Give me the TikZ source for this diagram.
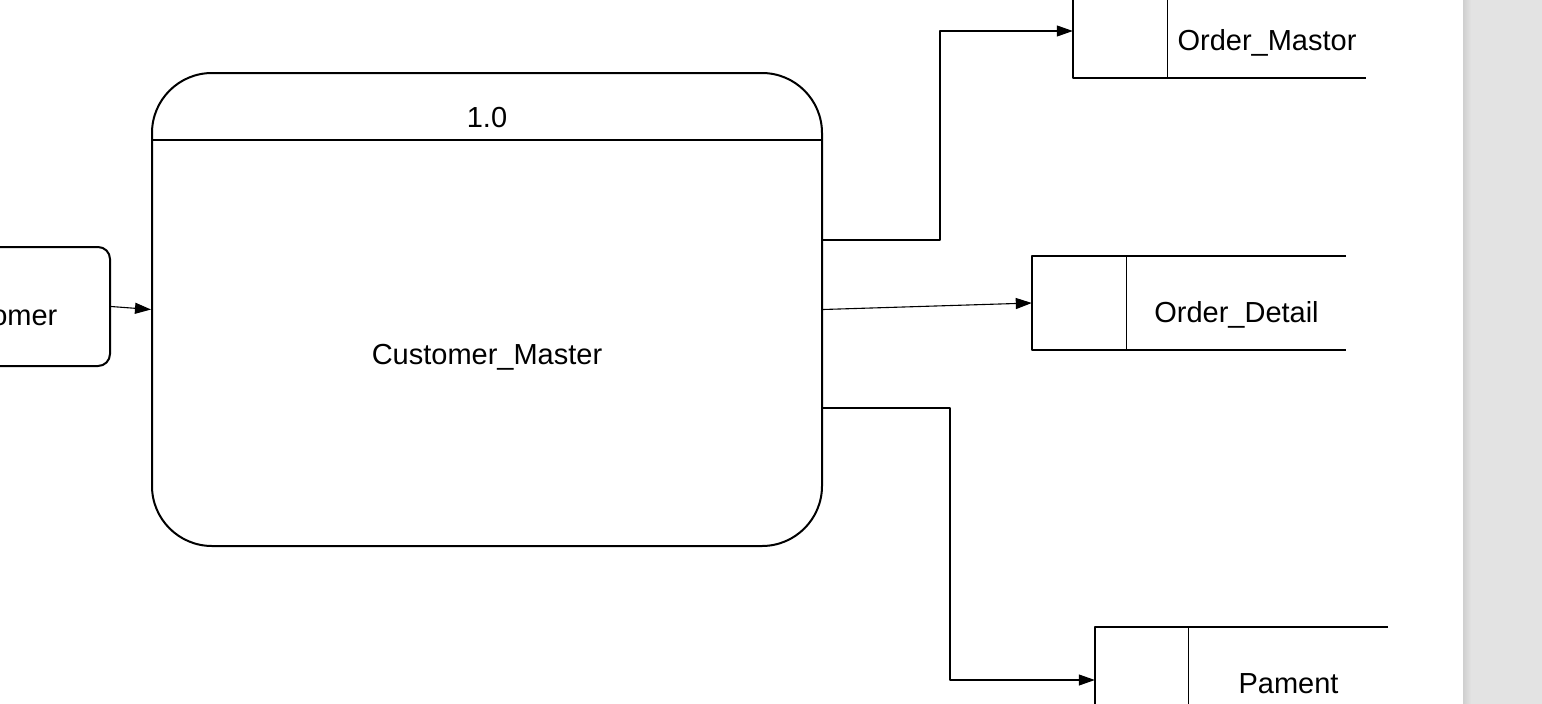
\documentclass[tikz,border=0pt]{standalone}
\usepackage{fontspec}
\setmainfont{Liberation Sans}
\usetikzlibrary{arrows.meta,positioning,calc}
\tikzset{
  box/.style={draw, line width=2pt, inner sep=0pt},
  border/.style={line width=2pt},
  thin/.style={line width=1.1pt},
  flow/.style={line width=1.1pt, -{Triangle[length=16pt,width=11pt]}},
  store/.style={inner sep=0pt, minimum height=94pt},
  lbl/.style={anchor=base, inner sep=0pt},
}
\begin{document}
\begin{tikzpicture}[x=1pt,y=-1pt,font=\fontsize{29}{33}\selectfont,line join=round]
	\useasboundingbox (0,0) rectangle (1542,704);
	\clip (0,0) rectangle (1542,704);
	% page edge on the right
	\fill[black!11] (1463,0) rectangle (1542,704);
	\shade[left color=black!19, right color=black!11] (1463,0) rectangle (1471,704);

	% process
	\node[box, rounded corners=60pt, minimum width=670pt, minimum height=473pt] (proc) at (487,309.5) {};
	\draw[thin] ([yshift=-68pt]proc.north west) -- ([yshift=-68pt]proc.north east);
	\node[lbl] (pid) at (487,127) {1.0};
	\node[lbl] (pname) at (487,364) {Customer\_Master};

	% entity
	\node[box, rounded corners=12pt, minimum width=231pt, minimum height=119pt] (cust) at (-5.5,306.5) {};
	\node[lbl] (custname) at (-5.5,325) {Customer};

	% data stores
	\node[store, minimum width=293pt] (om) at (1219.5,31) {};
	\draw[border] (om.north east) -- (om.north west) -- (om.south west) -- (om.south east);
	\draw[thin] ([xshift=95pt]om.north west) -- ([xshift=95pt]om.south west);
	\node[lbl] (omname) at (1267,50) {Order\_Mastor};

	\node[store, minimum width=314pt] (od) at (1189,303) {};
	\draw[border] (od.north east) -- (od.north west) -- (od.south west) -- (od.south east);
	\draw[thin] ([xshift=95pt]od.north west) -- ([xshift=95pt]od.south west);
	\node[lbl] (odname) at (1236.5,322) {Order\_Detail};

	\node[store, minimum width=293pt] (pm) at (1241.5,674) {};
	\draw[border] (pm.north east) -- (pm.north west) -- (pm.south west) -- (pm.south east);
	\draw[thin] ([xshift=94pt]pm.north west) -- ([xshift=94pt]pm.south west);
	\node[lbl] (pmname) at (1288.5,693) {Pament};

	% flows
	\draw[flow] (cust.east) -- (proc.west);
	\draw[flow] ([yshift=69.5pt]proc.east) -- ++(117,0) |- (om.west);
	\draw[flow] (proc.east) -- (od.west);
	\draw[flow] ([yshift=-98.5pt]proc.east) -- ++(127,0) |- ([yshift=-6pt]pm.west);
\end{tikzpicture}
\end{document}
